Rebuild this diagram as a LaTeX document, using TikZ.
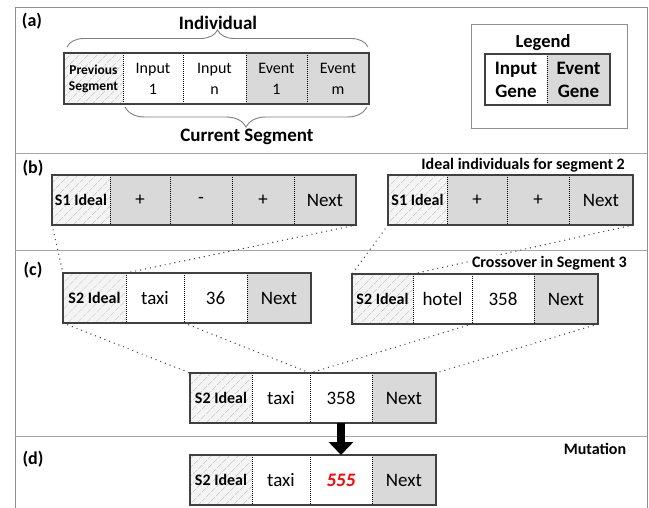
\documentclass[tikz,border=0pt]{standalone}
\usepackage{fontspec}
\setmainfont{Carlito}
\usetikzlibrary{patterns.meta,decorations.pathreplacing,arrows.meta}
\definecolor{evgrey}{HTML}{D9D9D9}
\definecolor{hatchbg}{HTML}{F4F4F4}
\definecolor{hatchline}{HTML}{BDBDBD}
\definecolor{rowgrey}{HTML}{404040}
\definecolor{framegrey}{HTML}{8F8F8F}
\definecolor{divgrey}{HTML}{A6A6A6}
\definecolor{bracegrey}{HTML}{808080}
\definecolor{dotgrey}{HTML}{3A3A3A}
\begin{document}
\begin{tikzpicture}[x=1pt,y=-1pt,
  cell/.style={inner sep=0pt, outer sep=0pt, anchor=west, minimum height=50pt, align=center,
    font=\fontsize{19}{22}\selectfont},
  hatch/.style={fill=hatchbg, postaction={pattern={Lines[angle=45,distance=6.5pt,line width=0.6pt]}, pattern color=hatchline}},
  ev/.style={fill=evgrey},
  inp/.style={fill=white},
  idealtxt/.style={font=\fontsize{16}{19}\selectfont\bfseries},
  rowbox/.style={draw=rowgrey, line width=2.6pt},
  sep/.style={black, line width=0.8pt, dash pattern=on 1pt off 1pt},
  conn/.style={dotgrey, line width=1.4pt, dash pattern=on 0pt off 5pt, line cap=round},
  lbl/.style={font=\fontsize{18}{21}\selectfont\bfseries, inner sep=0pt},
  title/.style={font=\fontsize{16}{19}\selectfont\bfseries, inner sep=1pt},
  bracestyle/.style={bracegrey, line width=0.9pt, decorate},
  bigarrow/.style={black, line width=8.5pt, -{Triangle[width=24pt,length=13pt]}}
]
\useasboundingbox (0,0) rectangle (649,508);

% frame and dividers
\draw[framegrey, line width=1pt] (15,508) -- (15,8) -- (647,8) -- (647,508);
\draw[divgrey, line width=1pt] (15,154) -- (647,154);
\draw[divgrey, line width=1pt] (15,251) -- (647,251);
\draw[divgrey, line width=1pt] (15,436) -- (647,436);

% section labels
\node[lbl] (la) at (32,21) {(a)};
\node[lbl] (lb) at (33,168) {(b)};
\node[lbl] (lc) at (33,270) {(c)};
\node[lbl] (ld) at (33,459) {(d)};

% ---------------- (a)
\node[font=\fontsize{19}{22}\selectfont\bfseries, inner sep=0pt] (tind) at (218,23) {Individual};
\node[font=\fontsize{19}{22}\selectfont\bfseries, inner sep=0pt] (tcur) at (247,137) {Current Segment};
\draw[bracestyle, decoration={brace, amplitude=17pt}] (67,47) -- (368,47);
\draw[bracestyle, decoration={brace, mirror, amplitude=20pt}] (125,107) -- (367,107);

\node[cell,hatch,minimum width=59pt,minimum height=51pt,font=\fontsize{13.5}{16}\selectfont\bfseries] (a1) at (64,78.5) {Previous\\Segment};
\node[cell,inp,minimum width=60pt,minimum height=51pt,font=\fontsize{16}{21}\selectfont] (a2) at (123,78.5) {Input\\1};
\node[cell,inp,minimum width=63pt,minimum height=51pt,font=\fontsize{16}{21}\selectfont] (a3) at (183,78.5) {Input\\n};
\node[cell,ev,minimum width=61pt,minimum height=51pt,font=\fontsize{16}{21}\selectfont] (a4) at (246,78.5) {Event\\1};
\node[cell,ev,minimum width=62pt,minimum height=51pt,font=\fontsize{16}{21}\selectfont] (a5) at (307,78.5) {Event\\m};
\foreach \n in {a1,a2,a3,a4} \draw[sep] (\n.north east) -- (\n.south east);
\draw[rowbox] (a1.north west) rectangle (a5.south east);

% legend
\draw[framegrey, line width=0.9pt] (471,24) rectangle (627,128);
\node[font=\fontsize{18.5}{22}\selectfont\bfseries, inner sep=0pt] (tleg) at (543,43) {Legend};
\node[cell,inp,minimum width=62pt,minimum height=51pt,font=\fontsize{19}{23}\selectfont\bfseries] (l1) at (485,79.5) {Input\\Gene};
\node[cell,ev,minimum width=63pt,minimum height=51pt,font=\fontsize{19}{23}\selectfont\bfseries] (l2) at (547,79.5) {Event\\Gene};
\draw[sep] (l1.north east) -- (l1.south east);
\draw[rowbox] (l1.north west) rectangle (l2.south east);

% ---------------- (b)
\node[title, anchor=east] (tb) at (626,165) {Ideal individuals for segment 2};

\node[cell,hatch,minimum width=58pt,idealtxt] (bl1) at (52,200) {S1 Ideal};
\node[cell,ev,minimum width=60pt] (bl2) at (110,200) {+};
\node[cell,ev,minimum width=62pt] (bl3) at (170,200) {-};
\node[cell,ev,minimum width=62pt] (bl4) at (232,200) {+};
\node[cell,ev,minimum width=62pt] (bl5) at (294,200) {Next};

\node[cell,hatch,minimum width=59pt,idealtxt] (br1) at (388,200) {S1 Ideal};
\node[cell,ev,minimum width=60pt] (br2) at (447,200) {+};
\node[cell,ev,minimum width=62pt] (br3) at (507,200) {+};
\node[cell,ev,minimum width=64pt] (br4) at (569,200) {Next};

% ---------------- (c)
\node[cell,hatch,minimum width=63pt,idealtxt] (cl1) at (63,298) {S2 Ideal};
\node[cell,inp,minimum width=58pt] (cl2) at (126,298) {taxi};
\node[cell,inp,minimum width=63pt] (cl3) at (184,298) {36};
\node[cell,ev,minimum width=64pt] (cl4) at (247,298) {Next};

\node[cell,hatch,minimum width=61pt,idealtxt] (cr1) at (352,299) {S2 Ideal};
\node[cell,inp,minimum width=59pt] (cr2) at (413,299) {hotel};
\node[cell,inp,minimum width=62pt] (cr3) at (472,299) {358};
\node[cell,ev,minimum width=64pt] (cr4) at (534,299) {Next};

\node[cell,hatch,minimum width=62pt,idealtxt] (m1) at (190,398) {S2 Ideal};
\node[cell,inp,minimum width=58pt] (m2) at (252,398) {taxi};
\node[cell,inp,minimum width=62pt] (m3) at (310,398) {358};
\node[cell,ev,minimum width=64pt] (m4) at (372,398) {Next};

% ---------------- (d)
\node[title] (tmut) at (595,449) {Mutation};
\node[cell,hatch,minimum width=62pt,idealtxt] (d1) at (190,480) {S2 Ideal};
\node[cell,inp,minimum width=58pt] (d2) at (252,480) {taxi};
\node[cell,inp,minimum width=62pt] (d3) at (310,480) {\color{red}\bfseries\itshape 555};
\node[cell,ev,minimum width=64pt] (d4) at (372,480) {Next};

% connectors
\draw[conn] (bl1.south west) -- (cl1.north west);
\draw[conn] (bl5.south east) -- (cl1.north east);
\draw[conn] (br1.south west) -- (cr1.north west);
\draw[conn] (br4.south east) -- (cr1.north east);
\draw[conn] (cl1.south west) -- (m1.north west);
\draw[conn] (cl2.south east) -- (m2.north east);
\draw[conn] (cr3.south west) -- (m3.north west);
\draw[conn] (cr4.south east) -- (m4.north east);
\node[title, anchor=east, fill=white] (tc) at (628,263) {Crossover in Segment 3};

% inner separators and row borders
\foreach \n in {bl1,bl2,bl3,bl4,br1,br2,br3,cl1,cl2,cl3,cr1,cr2,cr3,m1,m2,m3,d1,d2,d3}
  \draw[sep] (\n.north east) -- (\n.south east);
\draw[rowbox] (bl1.north west) rectangle (bl5.south east);
\draw[rowbox] (br1.north west) rectangle (br4.south east);
\draw[rowbox] (cl1.north west) rectangle (cl4.south east);
\draw[rowbox] (cr1.north west) rectangle (cr4.south east);
\draw[rowbox] (m1.north west) rectangle (m4.south east);
\draw[rowbox] (d1.north west) rectangle (d4.south east);

% mutation arrow
\draw[bigarrow] (m3.south) -- (d3.north);
\end{tikzpicture}
\end{document}
